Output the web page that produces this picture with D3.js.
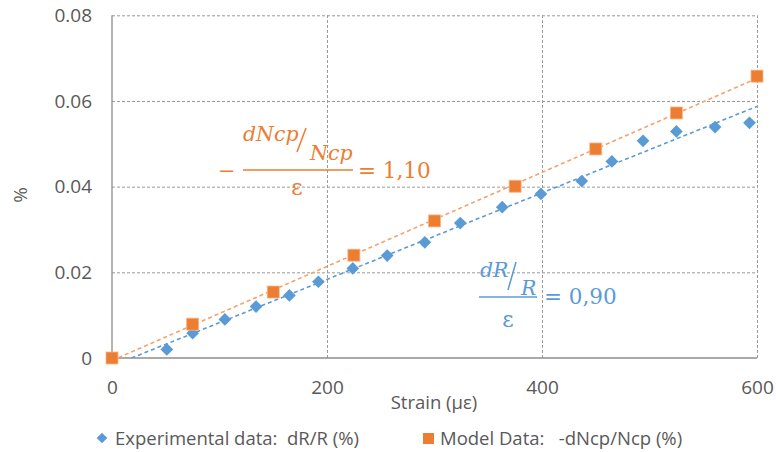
<!DOCTYPE html>
<html>
<head>
<meta charset="utf-8">
<script src="https://cdn.jsdelivr.net/npm/d3@7"></script>
<style>
  html, body { margin: 0; padding: 0; background: #ffffff; }
  svg { display: block; }
  text { white-space: pre; }
</style>
</head>
<body>
<svg id="chart" width="776" height="452"></svg>
<script>
// ---- data ----
const expStrain = [51, 75, 105, 134, 165, 192, 224, 256, 291, 324, 363, 399, 437, 465, 494, 525, 561, 593];
const expValues = [0.0020, 0.0058, 0.0090, 0.0120, 0.0146, 0.0178, 0.0209, 0.0239, 0.0270, 0.0315, 0.0352, 0.0383, 0.0413, 0.0459, 0.0507, 0.0529, 0.0539, 0.0549];
const modelStrain = [0, 75, 150, 225, 300, 375, 450, 525, 600];
const modelValues = [0, 0.0079, 0.0154, 0.0240, 0.0320, 0.0401, 0.0488, 0.0572, 0.0658];
const xTicks = [0, 200, 400, 600];
const yTicks = [0, 0.02, 0.04, 0.06, 0.08];
const xTitle = "Strain (\u03bc\u03b5)";
const yTitle = "%";
const legendLabels = ["Experimental data:  dR/R (%)", "Model Data:   -dNcp/Ncp (%)"];

const BLUE = "#5B9BD5", ORANGE = "#ED7D31";
const LABEL = "#595959";
const FONT = "'Open Sans', 'Liberation Sans', sans-serif";
const MATH = "'DejaVu Serif', serif";

const svg = d3.select("#chart");
const L = 112, R = 757, T = 15.3, B = 358;
const x = d3.scaleLinear().domain([0, 600]).range([L, R]);
const y = d3.scaleLinear().domain([0, 0.08]).range([B, T]);

// gridlines
const grid = svg.append("g");
grid.append("g").attr("transform", `translate(${L},0)`)
  .call(d3.axisLeft(y).tickValues(yTicks.slice(1)).tickSize(-(R - L)).tickFormat(""))
  .call(g => g.select(".domain").remove())
  .call(g => g.selectAll("line").attr("stroke", "#9a9a9a").attr("stroke-dasharray", "3,2").attr("stroke-width", 1));
grid.append("g").attr("transform", `translate(0,${B})`)
  .call(d3.axisBottom(x).tickValues(xTicks.slice(1)).tickSize(-(B - T)).tickFormat(""))
  .call(g => g.select(".domain").remove())
  .call(g => g.selectAll("line").attr("stroke", "#9a9a9a").attr("stroke-dasharray", "3,2").attr("stroke-width", 1));

// axes lines
svg.append("line").attr("x1", L).attr("x2", R).attr("y1", B).attr("y2", B).attr("stroke", "#8c8c8c").attr("stroke-width", 1.3);
svg.append("line").attr("x1", L).attr("x2", L).attr("y1", T).attr("y2", B).attr("stroke", "#8c8c8c").attr("stroke-width", 1.3);

// tick labels
svg.append("g").attr("transform", `translate(${L},0)`)
  .call(d3.axisLeft(y).tickValues(yTicks).tickSize(0).tickPadding(20)
    .tickFormat(d => d === 0 ? "0" : d.toFixed(2)))
  .call(g => g.select(".domain").remove())
  .call(g => g.selectAll("text").attr("fill", LABEL).style("font-family", FONT).style("font-size", "19px"));
svg.append("g").attr("transform", `translate(0,${B})`)
  .call(d3.axisBottom(x).tickValues(xTicks).tickSize(0).tickPadding(23).tickFormat(d3.format("d")))
  .call(g => g.select(".domain").remove())
  .call(g => g.selectAll("text").attr("fill", LABEL).style("font-family", FONT).style("font-size", "19px"));

// axis titles
svg.append("text").attr("x", 434).attr("y", 409).attr("text-anchor", "middle")
  .attr("fill", LABEL).style("font-family", FONT).style("font-size", "18.5px").text(xTitle);
svg.append("text").attr("transform", "translate(27,195) rotate(-90)").attr("text-anchor", "middle")
  .attr("fill", LABEL).style("font-family", FONT).style("font-size", "19px").text(yTitle);

// trendlines (least squares)
function fit(xs, ys) {
  const n = xs.length, mx = d3.mean(xs), my = d3.mean(ys);
  let sxy = 0, sxx = 0;
  for (let i = 0; i < n; i++) { sxy += (xs[i] - mx) * (ys[i] - my); sxx += (xs[i] - mx) ** 2; }
  const m = sxy / sxx; return { m, b: my - m * mx };
}
svg.append("clipPath").attr("id", "plotclip").append("rect")
  .attr("x", L).attr("y", T).attr("width", R - L).attr("height", B - T);
const trends = svg.append("g").attr("clip-path", "url(#plotclip)");
[[expStrain, expValues, BLUE], [modelStrain, modelValues, "#F4A26B"]].forEach(([xs, ys, c]) => {
  const f = fit(xs, ys);
  trends.append("line").attr("x1", x(0)).attr("y1", y(f.b)).attr("x2", x(600)).attr("y2", y(f.m * 600 + f.b))
    .attr("stroke", c).attr("stroke-width", 1.6).attr("stroke-dasharray", "4,3");
});

// markers
svg.append("g").selectAll("rect").data(d3.zip(expStrain, expValues)).join("rect")
  .attr("width", 9).attr("height", 9).attr("x", -4.5).attr("y", -4.5)
  .attr("transform", d => `translate(${x(d[0])},${y(d[1])}) rotate(45)`)
  .attr("fill", BLUE);
svg.append("g").selectAll("rect").data(d3.zip(modelStrain, modelValues)).join("rect")
  .attr("x", d => x(d[0]) - 6).attr("y", d => y(d[1]) - 6).attr("width", 12).attr("height", 12)
  .attr("fill", ORANGE).attr("stroke", "#F7B68A").attr("stroke-width", 0.8);

// annotations (orange)
const ao = svg.append("g").attr("fill", ORANGE).style("font-family", MATH);
ao.append("text").attr("x", 218).attr("y", 178).style("font-size", "21px").text("\u2212");
ao.append("text").attr("x", 243).attr("y", 141).style("font-size", "20.5px").style("font-style", "italic").text("dNcp");
ao.append("line").attr("x1", 306).attr("y1", 128).attr("x2", 297).attr("y2", 152).attr("stroke", ORANGE).attr("stroke-width", 1.5);
ao.append("text").attr("x", 310).attr("y", 160).style("font-size", "20.5px").style("font-style", "italic").text("Ncp");
ao.append("line").attr("x1", 243).attr("x2", 353).attr("y1", 170).attr("y2", 170).attr("stroke", ORANGE).attr("stroke-width", 1.3);
ao.append("text").attr("x", 297).attr("y", 195).attr("text-anchor", "middle").style("font-size", "22px").text("\u03b5");
ao.append("text").attr("x", 358).attr("y", 178).style("font-size", "21.5px").text("= 1,10");

// annotations (blue)
const ab = svg.append("g").attr("fill", BLUE).style("font-family", MATH);
ab.append("text").attr("x", 480).attr("y", 277).style("font-size", "20.5px").style("font-style", "italic").text("dR");
ab.append("line").attr("x1", 516).attr("y1", 262).attr("x2", 508).attr("y2", 290).attr("stroke", BLUE).attr("stroke-width", 1.5);
ab.append("text").attr("x", 521).attr("y", 295).style("font-size", "20.5px").style("font-style", "italic").text("R");
ab.append("line").attr("x1", 479).attr("x2", 537).attr("y1", 297).attr("y2", 297).attr("stroke", BLUE).attr("stroke-width", 1.3);
ab.append("text").attr("x", 508).attr("y", 327).attr("text-anchor", "middle").style("font-size", "22px").text("\u03b5");
ab.append("text").attr("x", 544).attr("y", 304).style("font-size", "21.5px").text("= 0,90");

// legend
const lg = svg.append("g");
lg.append("rect").attr("width", 7.5).attr("height", 7.5).attr("x", -3.75).attr("y", -3.75)
  .attr("transform", "translate(102,438) rotate(45)").attr("fill", BLUE);
lg.append("text").attr("x", 115).attr("y", 445).attr("fill", LABEL).style("font-family", FONT).style("font-size", "18.5px").text(legendLabels[0]);
lg.append("rect").attr("x", 423).attr("y", 433).attr("width", 11).attr("height", 11).attr("fill", ORANGE);
lg.append("text").attr("x", 440).attr("y", 445).attr("fill", LABEL).style("font-family", FONT).style("font-size", "18.5px").text(legendLabels[1]);
</script>
</body>
</html>
